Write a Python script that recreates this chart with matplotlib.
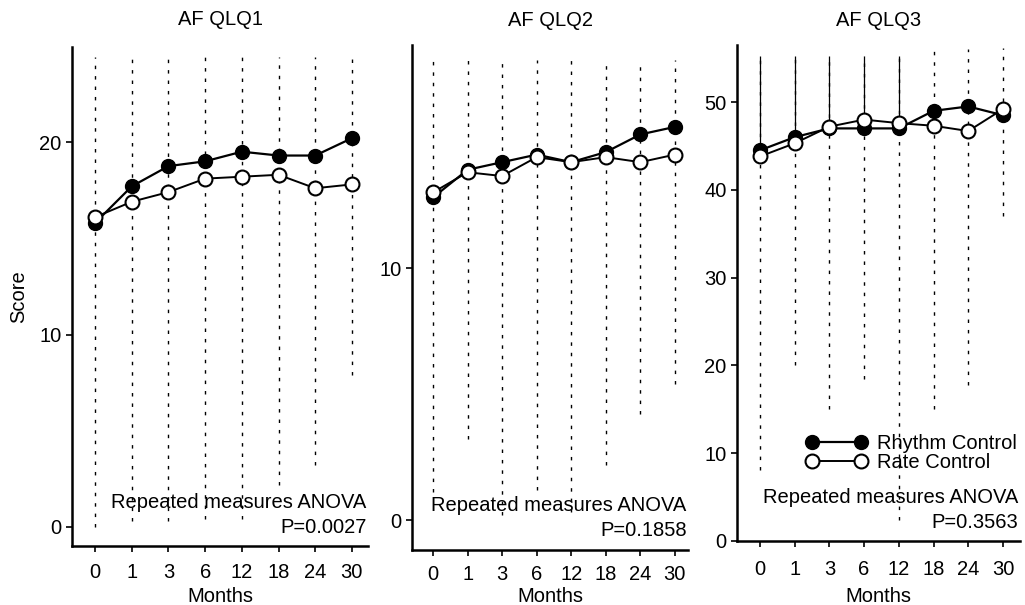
import matplotlib
matplotlib.use("Agg")
import matplotlib.pyplot as plt
import numpy as np

plt.rcParams['font.family'] = ['Liberation Sans', 'DejaVu Sans']

months = ["0", "1", "3", "6", "12", "18", "24", "30"]
titles = ["AF QLQ1", "AF QLQ2", "AF QLQ3"]
p_values = ["P=0.0027", "P=0.1858", "P=0.3563"]

# Panel 1 (AF QLQ1)
rhythm_1 = [15.8, 17.7, 18.75, 19.0, 19.5, 19.3, 19.3, 20.2]
rate_1 = [16.1, 16.9, 17.4, 18.1, 18.2, 18.3, 17.6, 17.8]
err_low_1 = [0.0, 0.3, 0.3, 0.4, 0.4, 2.2, 3.2, 7.9]
err_high_1 = [24.4, 24.4, 24.4, 24.4, 24.4, 24.4, 24.4, 24.4]

# Panel 2 (AF QLQ2)
rhythm_2 = [12.8, 13.9, 14.2, 14.5, 14.2, 14.6, 15.3, 15.6]
rate_2 = [13.0, 13.8, 13.65, 14.4, 14.2, 14.4, 14.2, 14.5]
err_low_2 = [1.1, 3.2, 0.2, 1.2, 0.3, 2.2, 4.2, 5.4]
err_high_2 = [18.25, 18.25, 18.25, 18.25, 18.25, 18.25, 18.25, 18.25]

# Panel 3 (AF QLQ3)
rhythm_3 = [44.5, 46.0, 47.0, 47.0, 47.0, 49.0, 49.5, 48.5]
rate_3 = [43.8, 45.3, 47.2, 48.0, 47.6, 47.3, 46.7, 49.2]
err_low_3 = [8.1, 20.0, 15.0, 18.4, 2.4, 15.0, 17.8, 37.0]
err_high_3 = [55.2, 55.2, 55.2, 55.2, 55.2, 56.0, 56.0, 56.2]

panels = [
    (rhythm_1, rate_1, err_low_1, err_high_1, (-0.99, 24.94), [0, 10, 20], (-0.63, 7.44)),
    (rhythm_2, rate_2, err_low_2, err_high_2, (-1.19, 18.85), [0, 10], (-0.61, 7.38)),
    (rhythm_3, rate_3, err_low_3, err_high_3, (0, 56.5), [0, 10, 20, 30, 40, 50], (-0.66, 7.49)),
]

W, H = 1025, 605
fig = plt.figure(figsize=(W / 100, H / 100), dpi=100)
boxes = [(72, 368, 47, 546), (412, 688, 45, 550), (737, 1020, 45, 541)]
xpads = [8, 6.5, 9.5]

FS = 14.5
x = np.arange(len(months))
dotted = (0, (2.5, 5))
for i, (box, (rh, ra, lo, hi, ylim, yticks, xlim)) in enumerate(zip(boxes, panels)):
    l, r, t, b = box
    ax = fig.add_axes([l / W, 1 - b / H, (r - l) / W, (b - t) / H])
    ax.vlines(x, lo, hi, colors='black', linestyles=dotted, lw=1.0, zorder=1)
    if i == 2:
        top = np.maximum(np.array(rh), np.array(ra))
        ax.vlines(x[:5], top[:5], np.array(hi)[:5], colors='black', linestyles='solid', lw=0.9, zorder=1)
    ax.plot(x, rh, '-o', color='black', mfc='black', mec='black', ms=10, lw=1.6, zorder=3,
            label='Rhythm Control')
    ax.plot(x, ra, '-o', color='black', mfc='white', mec='black', mew=1.5, ms=10, lw=1.4, zorder=4,
            label='Rate Control')
    ax.set_xlim(*xlim)
    ax.set_ylim(*ylim)
    ax.set_yticks(yticks)
    ax.set_xticks(x)
    ax.set_xticklabels(months)
    for s in ['top', 'right']:
        ax.spines[s].set_visible(False)
    for s in ['left', 'bottom']:
        ax.spines[s].set_linewidth(1.8)
    ax.tick_params(labelsize=FS, length=4, width=1.2, direction='out')
    ax.tick_params(axis='x', pad=xpads[i])
    ax.tick_params(axis='y', pad=3.5)
    ax.set_xlabel("Months", fontsize=FS)
    ax.xaxis.set_label_coords(0.5, (b - 597) / (b - t))
    ax.xaxis.label.set_va('center')
    ax.set_title(titles[i], fontsize=FS, pad=14 if i else 16)
    ax.text(0.995, 0.088, "Repeated measures ANOVA", transform=ax.transAxes,
            ha='right', va='center', fontsize=FS)
    ax.text(0.995, 0.038, p_values[i], transform=ax.transAxes,
            ha='right', va='center', fontsize=FS)
    if i == 0:
        ax.set_ylabel("Score", fontsize=FS, labelpad=8)
    if i == 2:
        ax.legend(loc='center left', bbox_to_anchor=(0.245, 0.178), frameon=False,
                  numpoints=2, handlelength=3.0, fontsize=FS, handletextpad=0.5,
                  labelspacing=0.0, borderpad=0.0, borderaxespad=0.0)

fig.savefig("out.png", dpi=100)
